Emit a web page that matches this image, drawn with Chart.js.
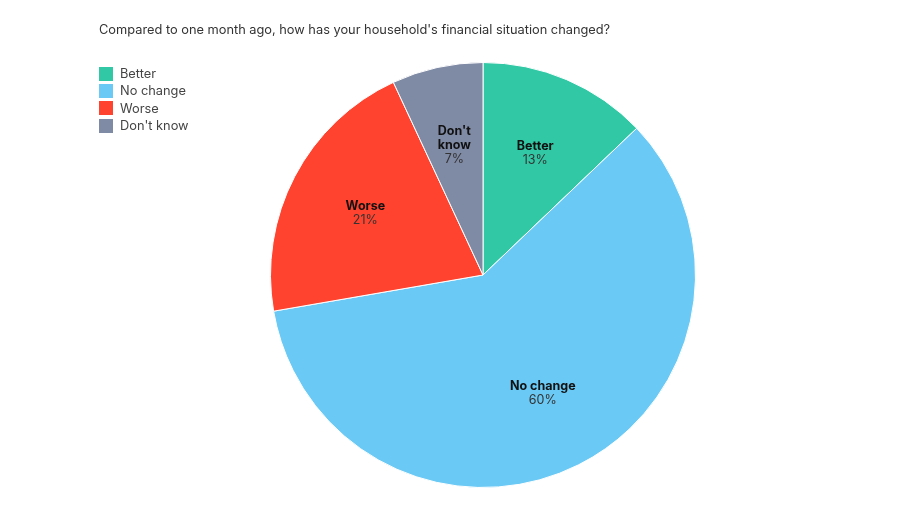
<!DOCTYPE html>
<html>
<head>
<meta charset="utf-8">
<script src="https://cdn.jsdelivr.net/npm/chart.js@4.4.0/dist/chart.umd.min.js"></script>
<style>
  html, body { margin:0; padding:0; background:#fff; width:900px; height:506px; overflow:hidden; font-family: Inter, "Noto Sans", sans-serif; }
  #wrap { position:absolute; left:0; top:0; width:900px; height:506px; }
  #title { position:absolute; left:99px; top:22px; font-size:12.8px; color:#333; white-space:nowrap; }
  #legend { position:absolute; left:99px; top:65px; font-size:12.8px; color:#444; }
  .li { display:flex; align-items:center; height:17.3px; }
  .sw { width:14px; height:14px; margin-right:7px; }
</style>
</head>
<body>
<div id="wrap"><canvas id="c" width="900" height="506"></canvas></div>
<div id="title">Compared to one month ago, how has your household's financial situation changed?</div>
<div id="legend"></div>
<script>
const categories = ["Better", "No change", "Worse", "Don't know"];
const labelLines = [["Better"], ["No change"], ["Worse"], ["Don't", "know"]];
const values = [13, 60, 21, 7];
const colors = ["#31c9a5", "#6ac9f5", "#ff432f", "#7f8aa5"];

const leg = document.getElementById('legend');
categories.forEach((c, i) => {
  const d = document.createElement('div'); d.className = 'li';
  const s = document.createElement('div'); s.className = 'sw'; s.style.background = colors[i];
  const t = document.createElement('span'); t.textContent = c;
  d.appendChild(s); d.appendChild(t); leg.appendChild(d);
});

const labelPlugin = {
  id: 'sliceLabels',
  afterDatasetsDraw(chart) {
    const ctx = chart.ctx;
    const meta = chart.getDatasetMeta(0);
    meta.data.forEach((arc, i) => {
      const mid = (arc.startAngle + arc.endAngle) / 2;
      const r = arc.outerRadius * 0.625;
      const x = arc.x + Math.cos(mid) * r;
      const y = arc.y + Math.sin(mid) * r;
      const lines = labelLines[i];
      const lh = 14;
      const total = lines.length + 1;
      let y0 = y - (total - 1) * lh / 2;
      ctx.save();
      ctx.textAlign = 'center';
      ctx.textBaseline = 'middle';
      ctx.fillStyle = '#111';
      ctx.font = 'bold 12.5px Inter, "Noto Sans", sans-serif';
      lines.forEach((l, k) => ctx.fillText(l, x, y0 + k * lh));
      ctx.font = '12.5px Inter, "Noto Sans", sans-serif';
      ctx.fillStyle = '#333';
      ctx.fillText(values[i] + '%', x, y0 + lines.length * lh);
      ctx.restore();
    });
  }
};

new Chart(document.getElementById('c'), {
  type: 'pie',
  data: {
    labels: categories,
    datasets: [{ data: values, backgroundColor: colors, borderColor: '#ffffff', borderWidth: 1 }]
  },
  options: {
    responsive: false,
    animation: false,
    layout: { padding: { left: 270, right: 204, top: 62, bottom: 18 } },
    plugins: { legend: { display: false }, tooltip: { enabled: false } }
  },
  plugins: [labelPlugin]
});
</script>
</body>
</html>
